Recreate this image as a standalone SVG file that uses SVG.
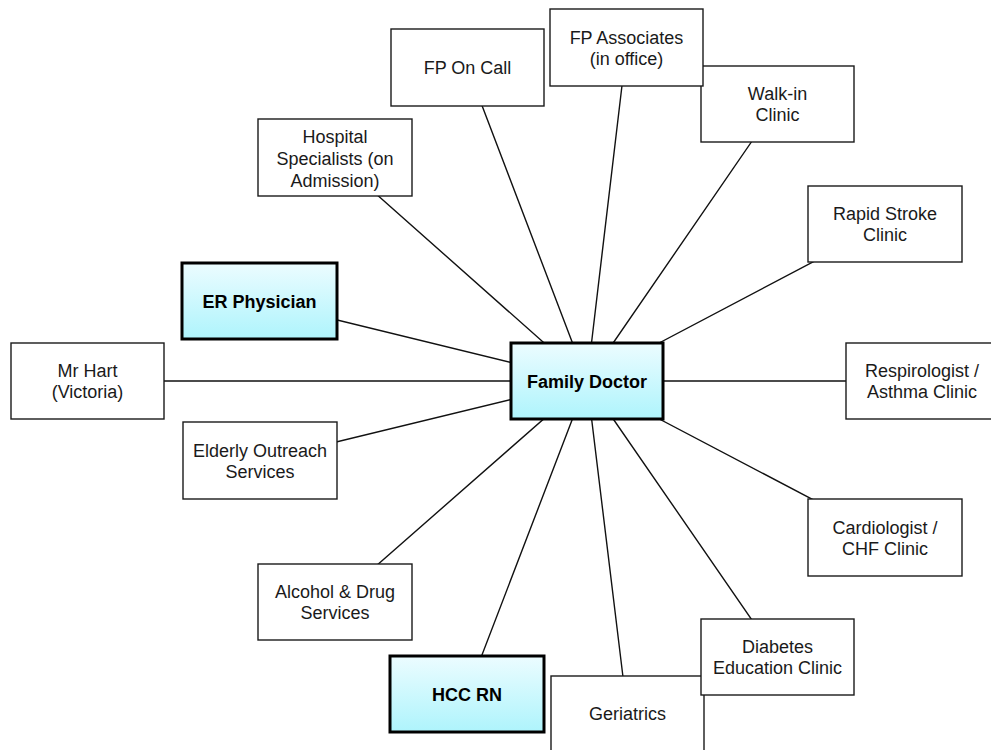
<svg xmlns="http://www.w3.org/2000/svg" width="991" height="750" viewBox="0 0 991 750">
<defs>
<linearGradient id="cyan" x1="0" y1="0" x2="0" y2="1">
<stop offset="0" stop-color="#ecfcff"/>
<stop offset="1" stop-color="#aef4fc"/>
</linearGradient>
<style>
.box{fill:#ffffff;stroke:#1a1a1a;stroke-width:1.4}
.key{fill:url(#cyan);stroke:#000000;stroke-width:3}
.t{font-family:"Liberation Sans",Arial,Helvetica,sans-serif;font-size:18px;fill:#1a1a1a;text-anchor:middle}
.b{font-weight:bold;fill:#000000}
.conn{stroke:#111111;stroke-width:1.4;fill:none}
</style>
</defs>
<rect width="991" height="750" fill="#ffffff"/>
<g id="connectors" class="conn">
<path d="M587 381L335 157.5M587 381L467.5 67.5M587 381L626.5 47.5M587 381L777.5 104M587 381L885 224M587 381L259.5 301M587 381L87.5 381M587 381L923 381M587 381L260 460.5M587 381L885 537.5M587 381L335 602M587 381L777.5 657M587 381L467 694M587 381L627.5 714"/>
</g>
<g id="hospital-specialists">
<rect class="box" x="258" y="119" width="154" height="77"/>
<text class="t" x="335" y="143">Hospital</text>
<text class="t" x="335" y="165">Specialists (on</text>
<text class="t" x="335" y="187">Admission)</text>
</g>
<g id="fp-on-call">
<rect class="box" x="391" y="29" width="153" height="77"/>
<text class="t" x="467.5" y="74">FP On Call</text>
</g>
<g id="walk-in-clinic">
<rect class="box" x="701" y="66" width="153" height="76"/>
<text class="t" x="777.5" y="100">Walk-in</text>
<text class="t" x="777.5" y="121">Clinic</text>
</g>
<g id="fp-associates">
<rect class="box" x="550" y="9" width="153" height="77"/>
<text class="t" x="626.5" y="44">FP Associates</text>
<text class="t" x="626.5" y="65">(in office)</text>
</g>
<g id="rapid-stroke-clinic">
<rect class="box" x="808" y="186" width="154" height="76"/>
<text class="t" x="885" y="220">Rapid Stroke</text>
<text class="t" x="885" y="241">Clinic</text>
</g>
<g id="er-physician">
<rect class="key" x="182" y="263" width="155" height="76"/>
<text class="t b" x="259.5" y="307.5">ER Physician</text>
</g>
<g id="mr-hart">
<rect class="box" x="11" y="343" width="153" height="76"/>
<text class="t" x="87.5" y="377">Mr Hart</text>
<text class="t" x="87.5" y="398">(Victoria)</text>
</g>
<g id="family-doctor">
<rect class="key" x="511" y="343" width="152" height="76"/>
<text class="t b" x="587" y="387.5">Family Doctor</text>
</g>
<g id="respirologist">
<rect class="box" x="846" y="343" width="154" height="76"/>
<text class="t" x="922" y="377">Respirologist /</text>
<text class="t" x="922" y="398">Asthma Clinic</text>
</g>
<g id="elderly-outreach">
<rect class="box" x="183" y="422" width="154" height="77"/>
<text class="t" x="260" y="457">Elderly Outreach</text>
<text class="t" x="260" y="478">Services</text>
</g>
<g id="cardiologist">
<rect class="box" x="808" y="499" width="154" height="77"/>
<text class="t" x="885" y="534">Cardiologist /</text>
<text class="t" x="885" y="555">CHF Clinic</text>
</g>
<g id="alcohol-drug">
<rect class="box" x="258" y="564" width="154" height="76"/>
<text class="t" x="335" y="598">Alcohol &amp; Drug</text>
<text class="t" x="335" y="619">Services</text>
</g>
<g id="geriatrics">
<rect class="box" x="551" y="676" width="153" height="77"/>
<text class="t" x="627.5" y="720">Geriatrics</text>
</g>
<g id="diabetes-education">
<rect class="box" x="701" y="619" width="153" height="76"/>
<text class="t" x="777.5" y="653">Diabetes</text>
<text class="t" x="777.5" y="674">Education Clinic</text>
</g>
<g id="hcc-rn">
<rect class="key" x="390" y="656" width="154" height="76"/>
<text class="t b" x="467" y="700.5">HCC RN</text>
</g>
</svg>
